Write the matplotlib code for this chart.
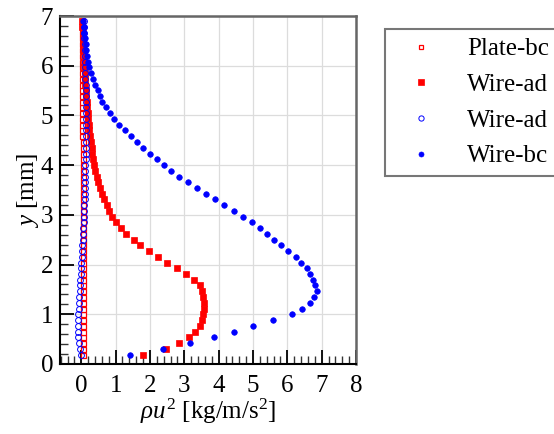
import matplotlib
matplotlib.use("Agg")
import matplotlib.pyplot as plt
from matplotlib.ticker import MultipleLocator

plt.rcParams['font.family'] = ['Liberation Serif', 'DejaVu Serif']
plt.rcParams['mathtext.fontset'] = 'custom'
plt.rcParams['mathtext.rm'] = 'Liberation Serif'
plt.rcParams['mathtext.it'] = 'Liberation Serif:italic'

y_mm = [0.19, 0.30, 0.42, 0.54, 0.65, 0.77, 0.89, 1.00, 1.11, 1.23,
        1.35, 1.46, 1.58, 1.69, 1.81, 1.93, 2.04, 2.16, 2.27, 2.39,
        2.50, 2.62, 2.73, 2.85, 2.96, 3.08, 3.19, 3.31, 3.42, 3.54,
        3.66, 3.77, 3.89, 4.00, 4.12, 4.23, 4.35, 4.46, 4.58, 4.70,
        4.81, 4.93, 5.04, 5.16, 5.27, 5.39, 5.51, 5.62, 5.74, 5.85,
        5.97, 6.08, 6.20, 6.32, 6.43, 6.55, 6.66, 6.78, 6.89]

plate_bc = [0.05, 0.05, 0.05, 0.05, 0.05, 0.05, 0.05, 0.05, 0.05, 0.05,
            0.05, 0.05, 0.05, 0.05, 0.05, 0.05, 0.05, 0.05, 0.04, 0.04,
            0.04, 0.04, 0.04, 0.04, 0.04, 0.04, 0.04, 0.04, 0.04, 0.04,
            0.04, 0.04, 0.04, 0.04, 0.04, 0.04, 0.04, 0.04, 0.03, 0.03,
            0.03, 0.03, 0.03, 0.03, 0.03, 0.03, 0.03, 0.03, 0.03, 0.03,
            0.03, 0.03, 0.02, 0.02, 0.02, 0.02, 0.02, 0.02, 0.02]

wire_ad_sq = [1.80, 2.46, 2.86, 3.14, 3.31, 3.45, 3.52, 3.55, 3.57, 3.57,
              3.55, 3.52, 3.45, 3.27, 3.04, 2.79, 2.51, 2.24, 1.97, 1.72,
              1.53, 1.31, 1.17, 1.02, 0.90, 0.81, 0.74, 0.66, 0.60, 0.54,
              0.50, 0.45, 0.41, 0.38, 0.35, 0.32, 0.30, 0.27, 0.25, 0.23,
              0.22, 0.20, 0.19, 0.17, 0.16, 0.15, 0.13, 0.12, 0.11, 0.10,
              0.09, 0.08, 0.07, 0.06, 0.05, 0.05, 0.04, 0.03, 0.03]

wire_ad_circ = [-0.02, -0.05, -0.07, -0.09, -0.10, -0.10, -0.10, -0.09, -0.08, -0.07,
                -0.06, -0.05, -0.04, -0.03, -0.02, -0.01, 0.00, 0.01, 0.02, 0.03,
                0.04, 0.05, 0.06, 0.07, 0.07, 0.08, 0.09, 0.10, 0.10, 0.11,
                0.11, 0.12, 0.12, 0.12, 0.13, 0.13, 0.13, 0.13, 0.13, 0.13,
                0.13, 0.13, 0.13, 0.13, 0.13, 0.13, 0.13, 0.13, 0.12, 0.12,
                0.12, 0.11, 0.11, 0.10, 0.10, 0.09, 0.09, 0.08, 0.08]

wire_bc = [1.41, 2.38, 3.17, 3.86, 4.44, 5.01, 5.57, 6.13, 6.43, 6.66,
           6.77, 6.85, 6.80, 6.75, 6.66, 6.56, 6.40, 6.24, 6.03, 5.83,
           5.62, 5.41, 5.19, 4.97, 4.71, 4.46, 4.17, 3.89, 3.62, 3.36,
           3.10, 2.84, 2.62, 2.40, 2.20, 2.00, 1.81, 1.62, 1.44, 1.27,
           1.11, 0.96, 0.83, 0.72, 0.61, 0.54, 0.48, 0.40, 0.33, 0.27,
           0.23, 0.19, 0.18, 0.15, 0.13, 0.11, 0.08, 0.07, 0.05]

labels = ['Plate-bc', 'Wire-ad', 'Wire-ad', 'Wire-bc']

FS = 18

fig = plt.figure(figsize=(5.54, 4.34), dpi=100)
ax = fig.add_axes([60/554, 70/434, 296/554, 348/434])

ax.plot(plate_bc, y_mm, ls='none', marker='s', ms=3.6, mfc='white', mec='red',
        mew=0.9, label=labels[0], zorder=3)
ax.plot(wire_ad_sq, y_mm, ls='none', marker='s', ms=4.4, mfc='red', mec='red',
        mew=0.5, label=labels[1], zorder=3)
ax.plot(wire_ad_circ, y_mm, ls='none', marker='o', ms=4.2, mfc='none', mec='blue',
        mew=0.7, label=labels[2], zorder=4)
ax.plot(wire_bc, y_mm, ls='none', marker='o', ms=4.0, mfc='blue', mec='blue',
        mew=0.5, label=labels[3], zorder=4)

ax.set_xlim(-0.62, 8)
ax.set_ylim(0, 7)
ax.xaxis.set_major_locator(MultipleLocator(1))
ax.xaxis.set_minor_locator(MultipleLocator(0.2))
ax.yaxis.set_major_locator(MultipleLocator(1))
ax.yaxis.set_minor_locator(MultipleLocator(0.2))
ax.grid(True, which='major', color='#dcdcdc', lw=0.9, zorder=0)
ax.set_axisbelow(True)
ax.tick_params(which='major', direction='in', length=10, width=1.3,
               labelsize=FS, top=False, right=False, pad=5, colors='black')
ax.tick_params(axis='x', which='major', pad=8)
ax.tick_params(which='minor', direction='in', length=6, width=1.0,
               top=False, right=False, color='#333333')
for s in ['left', 'bottom']:
    ax.spines[s].set_color('black')
    ax.spines[s].set_linewidth(1.5)
for s in ['top', 'right']:
    ax.spines[s].set_color('#666666')
    ax.spines[s].set_linewidth(1.8)

ax.set_xlabel(r'$\rho u^2$ [kg/m/s$^2$]', fontsize=FS, labelpad=0)
ax.set_ylabel(r'$y$ [mm]', fontsize=FS, labelpad=0)

leg = ax.legend(loc='upper left', bbox_to_anchor=(385/554, 1 - 29/434),
                bbox_transform=fig.transFigure, borderaxespad=0,
                fontsize=FS, frameon=True, fancybox=False, borderpad=0.35,
                handlelength=2.15, handletextpad=0.78, labelspacing=0.53,
                markerscale=0.9)
leg.get_frame().set_edgecolor('#555555')
leg.get_frame().set_linewidth(1.5)

fig.savefig('out.png', dpi=100)
